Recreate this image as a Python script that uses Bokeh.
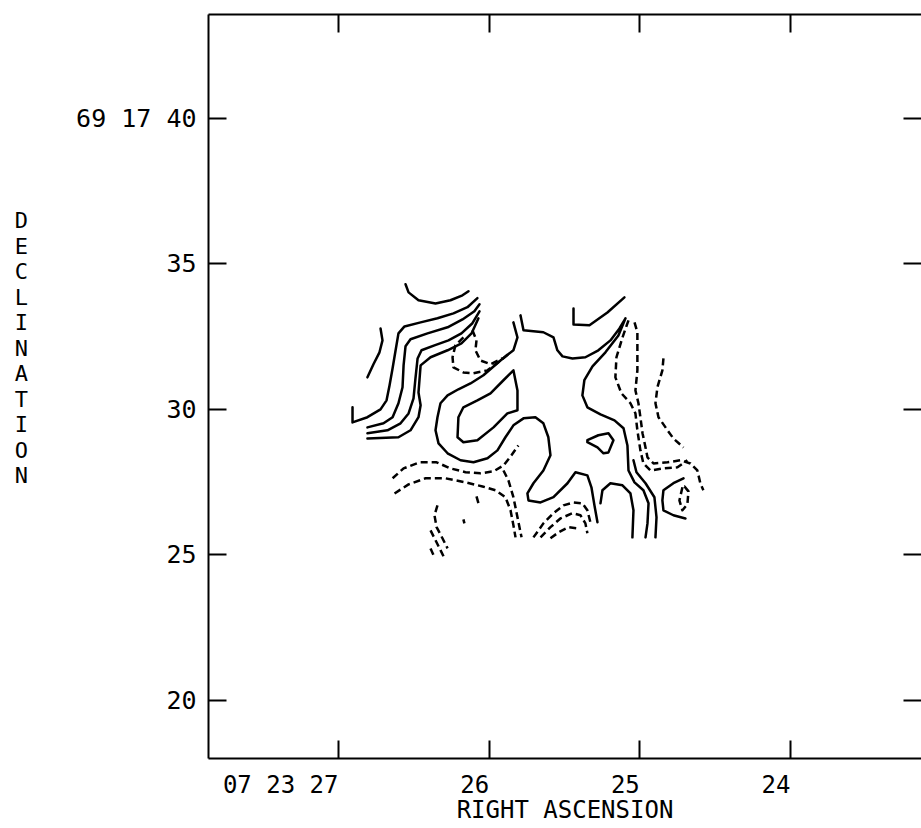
from bokeh.plotting import figure
from bokeh.models import Range1d, LinearAxis, FixedTicker, CustomLabelingPolicy
from bokeh.embed import file_html
from bokeh.resources import INLINE

# Axes: right ascension (seconds of 07h23m) and declination (arcsec of +69d17m)
ra_ticks = [27, 26, 25, 24]
ra_tick_labels = ["07 23 27", "26", "25", "24"]
dec_ticks = [20, 25, 30, 35, 40]
dec_tick_labels = ["20", "25", "30", "35", "69 17 40"]
ra_limits = (27.863, 23.13)
dec_limits = (18.0, 43.57)

# ---- positive (solid) contours: RA seconds, Dec arcsec ----
north_arc_ra = [26.555, 26.535, 26.469, 26.356, 26.257, 26.177, 26.137]
north_arc_dec = [34.30, 34.02, 33.75, 33.64, 33.75, 33.92, 34.06]

west_spur_ra = [26.721, 26.708, 26.728, 26.768, 26.808]
west_spur_dec = [32.78, 32.37, 31.96, 31.55, 31.10]

ridge1_ra = [26.907, 26.907, 26.808, 26.721, 26.681, 26.661, 26.641, 26.621, 26.602,
             26.562, 26.455, 26.343, 26.237, 26.144, 26.078]
ridge1_dec = [30.07, 29.55, 29.73, 30.00, 30.31, 30.83, 31.41, 32.03, 32.61,
              32.85, 32.99, 33.13, 33.30, 33.51, 33.82]

ridge2_ra = [26.808, 26.701, 26.641, 26.602, 26.575, 26.568, 26.555, 26.522, 26.409,
             26.276, 26.177, 26.098, 26.064]
ridge2_dec = [29.38, 29.52, 29.73, 30.21, 30.76, 31.51, 32.17, 32.41, 32.61,
              32.82, 33.09, 33.37, 33.61]

ridge3_ra = [26.808, 26.675, 26.588, 26.535, 26.502, 26.489, 26.475, 26.449, 26.363,
             26.270, 26.184, 26.111, 26.064]
ridge3_dec = [29.18, 29.28, 29.52, 29.86, 30.38, 31.07, 31.75, 32.03, 32.20,
              32.37, 32.61, 32.96, 33.37]

ridge4_ra = [26.808, 26.602, 26.522, 26.469, 26.455, 26.469, 26.455, 26.389, 26.276,
             26.184, 26.117, 26.071]
ridge4_dec = [29.00, 29.04, 29.28, 29.73, 30.14, 30.58, 31.51, 31.79, 32.03,
              32.27, 32.61, 33.13]

finger_ra = [26.204, 26.210, 26.171, 26.078, 25.971, 25.879, 25.812, 25.812, 25.839,
             25.905, 25.991, 26.078, 26.171, 26.204]
finger_dec = [29.73, 29.04, 28.87, 28.94, 29.38, 29.86, 29.97, 30.65, 31.34,
              31.00, 30.55, 30.31, 30.07, 29.73]

loop_ra = [25.839, 25.812, 25.839, 25.925, 26.038, 26.124, 26.204, 26.276, 26.323,
           26.343, 26.356, 26.336, 26.276, 26.190, 26.104, 26.011, 25.945, 25.892,
           25.839, 25.772, 25.693, 25.640, 25.607, 25.593, 25.640, 25.706, 25.746,
           25.739, 25.659, 25.573, 25.480, 25.427, 25.348, 25.321, 25.301, 25.281]
loop_dec = [32.99, 32.47, 32.03, 31.68, 31.17, 30.89, 30.69, 30.48, 30.21,
            29.73, 29.28, 28.83, 28.49, 28.25, 28.18, 28.32, 28.59, 29.04,
            29.45, 29.69, 29.73, 29.52, 29.04, 28.42, 27.90, 27.46, 27.11,
            26.87, 26.80, 26.98, 27.46, 27.84, 27.73, 27.32, 26.70, 26.12]

star_ra = [25.792, 25.772, 25.640, 25.573, 25.547, 25.513, 25.447, 25.361, 25.275,
           25.195, 25.135, 25.095, 25.142, 25.228, 25.314, 25.368, 25.381, 25.348,
           25.261, 25.168, 25.108, 25.082, 25.075, 25.035, 24.976, 24.942, 24.949,
           24.962]
star_dec = [33.23, 32.72, 32.65, 32.47, 32.03, 31.82, 31.75, 31.79, 32.03,
            32.37, 32.78, 33.13, 32.54, 31.96, 31.48, 31.00, 30.48, 30.07,
            29.83, 29.62, 29.35, 28.76, 27.90, 27.49, 27.22, 26.77, 26.08,
            25.60]

hook_ra = [25.440, 25.440, 25.334, 25.215, 25.102]
hook_dec = [33.47, 32.92, 32.89, 33.33, 33.85]

islet_ra = [25.348, 25.275, 25.208, 25.175, 25.208, 25.241, 25.281, 25.348, 25.348]
islet_dec = [28.94, 29.11, 29.18, 28.94, 28.52, 28.49, 28.69, 28.87, 28.94]

arch_ra = [25.261, 25.248, 25.195, 25.115, 25.062, 25.042, 25.049]
arch_dec = [26.77, 27.22, 27.46, 27.39, 27.11, 26.53, 25.60]

east_edge_ra = [25.042, 25.022, 24.962, 24.903, 24.889, 24.896]
east_edge_dec = [28.25, 27.84, 27.46, 26.98, 26.29, 25.60]

east_cup_ra = [24.710, 24.777, 24.843, 24.850, 24.843, 24.777, 24.697]
east_cup_dec = [27.63, 27.46, 27.22, 26.87, 26.53, 26.36, 26.25]

# ---- negative (dashed) contours ----
neg_a_ra = [26.171, 26.224, 26.243, 26.237, 26.171, 26.104, 26.011, 25.925, 25.858]
neg_a_dec = [32.47, 32.20, 31.79, 31.44, 31.27, 31.24, 31.34, 31.68, 31.96]

neg_b_ra = [26.111, 26.084, 26.091, 26.058, 25.991, 25.912]
neg_b_dec = [32.72, 32.37, 32.03, 31.68, 31.55, 31.75]

neg_c_ra = [25.075, 25.115, 25.155, 25.162, 25.122, 25.062, 25.029, 25.016, 24.996,
            24.976, 24.929, 24.843, 24.750, 24.684]
neg_c_dec = [33.06, 32.47, 31.79, 31.10, 30.55, 30.21, 29.86, 29.28, 28.59,
             28.14, 27.90, 27.97, 28.01, 28.25]

neg_d_ra = [25.035, 25.016, 25.016, 25.016, 25.029, 25.009, 24.996, 24.982, 24.962,
            24.949, 24.909, 24.816, 24.730, 24.664, 24.618, 24.598, 24.578]
neg_d_dec = [32.99, 32.65, 32.03, 31.34, 30.65, 30.21, 29.73, 29.18, 28.69,
             28.35, 28.14, 28.18, 28.25, 28.14, 27.90, 27.46, 27.22]

neg_e_ra = [24.843, 24.850, 24.883, 24.896, 24.876, 24.816, 24.777, 24.710]
neg_e_dec = [31.75, 31.34, 30.76, 30.21, 29.73, 29.28, 29.00, 28.69]

neg_f_ra = [24.717, 24.737, 24.717, 24.684, 24.677, 24.703, 24.717]
neg_f_dec = [27.32, 26.87, 26.53, 26.74, 27.18, 27.35, 27.32]

neg_g_ra = [26.641, 26.568, 26.462, 26.349, 26.257, 26.157, 26.058, 25.971, 25.905,
            25.852, 25.806]
neg_g_dec = [27.63, 27.97, 28.18, 28.18, 27.97, 27.84, 27.80, 27.87, 28.07,
             28.42, 28.76]

neg_h_ra = [26.628, 26.535, 26.422, 26.290, 26.157, 26.044, 25.958, 25.892, 25.858,
            25.839, 25.825]
neg_h_dec = [27.11, 27.42, 27.63, 27.63, 27.49, 27.35, 27.22, 26.98, 26.53,
             26.02, 25.60]

neg_i_ra = [25.905, 25.872, 25.839, 25.812, 25.785]
neg_i_dec = [27.90, 27.56, 26.98, 26.29, 25.60]

neg_j_ra = [26.343, 26.363, 26.349, 26.310, 26.276]
neg_j_dec = [26.70, 26.36, 25.95, 25.57, 25.22]

neg_k_ra = [26.389, 26.356, 26.323, 26.303]
neg_k_dec = [25.84, 25.50, 25.16, 24.95]

neg_l_ra = [26.389, 26.369]
neg_l_dec = [25.22, 24.98]

neg_m_ra = [26.084, 26.071]
neg_m_dec = [27.01, 26.77]

neg_n_ra = [26.171, 26.164]
neg_n_dec = [26.22, 26.08]

neg_o_ra = [25.706, 25.640, 25.573, 25.507, 25.440, 25.381, 25.348, 25.328]
neg_o_dec = [25.60, 26.08, 26.43, 26.70, 26.80, 26.77, 26.53, 26.12]

neg_p_ra = [25.659, 25.593, 25.527, 25.447, 25.394, 25.361, 25.348]
neg_p_dec = [25.60, 25.95, 26.25, 26.43, 26.36, 26.08, 25.74]

neg_q_ra = [25.593, 25.540, 25.474, 25.414]
neg_q_dec = [25.57, 25.77, 25.95, 25.91]

solid_ra = [north_arc_ra, west_spur_ra, ridge1_ra, ridge2_ra, ridge3_ra, ridge4_ra,
            finger_ra, loop_ra, star_ra, hook_ra, islet_ra, arch_ra, east_edge_ra,
            east_cup_ra]
solid_dec = [north_arc_dec, west_spur_dec, ridge1_dec, ridge2_dec, ridge3_dec, ridge4_dec,
             finger_dec, loop_dec, star_dec, hook_dec, islet_dec, arch_dec, east_edge_dec,
             east_cup_dec]
dashed_ra = [neg_a_ra, neg_b_ra, neg_c_ra, neg_d_ra, neg_e_ra, neg_f_ra, neg_g_ra,
             neg_h_ra, neg_i_ra, neg_j_ra, neg_k_ra, neg_l_ra, neg_m_ra, neg_n_ra,
             neg_o_ra, neg_p_ra, neg_q_ra]
dashed_dec = [neg_a_dec, neg_b_dec, neg_c_dec, neg_d_dec, neg_e_dec, neg_f_dec, neg_g_dec,
              neg_h_dec, neg_i_dec, neg_j_dec, neg_k_dec, neg_l_dec, neg_m_dec, neg_n_dec,
              neg_o_dec, neg_p_dec, neg_q_dec]

FONT = "DejaVu Sans Mono"

p = figure(width=921, height=828,
           x_range=Range1d(*ra_limits), y_range=Range1d(*dec_limits),
           output_backend="svg", toolbar_location=None,
           x_axis_location=None, y_axis_location=None,
           min_border_left=208, min_border_right=0,
           min_border_top=14, min_border_bottom=70)
p.outline_line_color = None
p.grid.visible = False
p.background_fill_color = "white"
p.border_fill_color = "white"


def frame_axis(ticks, labels, show_labels, draw_line=True):
    ax = LinearAxis(ticker=FixedTicker(ticks=ticks),
                    major_label_overrides={t: s for t, s in zip(ticks, labels)},
                    major_tick_in=18, major_tick_out=0,
                    major_tick_line_width=2, major_tick_line_color="black",
                    minor_tick_line_color=None,
                    axis_line_width=2,
                    axis_line_color="black" if draw_line else None,
                    major_label_text_font=FONT,
                    major_label_text_color="black")
    if not show_labels:
        # tick marks only on this side: no labels, no space reserved for them
        ax.major_label_policy = CustomLabelingPolicy(
            code="for (const i of indices) { if (false) yield i }")
        ax.major_label_text_font_size = "0px"
        ax.major_label_standoff = 0
    return ax


# bottom: labels hang to the left of their tick
x_bottom = frame_axis(ra_ticks, ra_tick_labels, True)
x_bottom.major_label_text_font_size = "24px"
x_bottom.major_label_orientation = 1e-4
x_bottom.major_label_standoff = 26
x_bottom.axis_label = "RIGHT ASCENSION"
x_bottom.axis_label_text_font = FONT
x_bottom.axis_label_text_font_style = "normal"
x_bottom.axis_label_text_font_size = "24px"
x_bottom.axis_label_text_color = "black"
x_bottom.axis_label_standoff = -20
p.add_layout(x_bottom, "below")

x_top = frame_axis(ra_ticks, ra_tick_labels, False)
p.add_layout(x_top, "above")

# left: numbers plus a stacked, one-letter-per-line title
y_left = frame_axis(dec_ticks, dec_tick_labels, True)
y_left.major_label_text_font_size = "25px"
y_left.major_label_standoff = 12
y_left.axis_label = "\n".join("DECLINATION") + "\n\n\n"
y_left.axis_label_orientation = "horizontal"
y_left.axis_label_text_font = FONT
y_left.axis_label_text_font_style = "normal"
y_left.axis_label_text_font_size = "22px"
y_left.axis_label_text_line_height = 1.02
y_left.axis_label_text_color = "black"
y_left.axis_label_standoff = 45
p.add_layout(y_left, "left")

y_right = frame_axis(dec_ticks, dec_tick_labels, False, draw_line=False)
p.add_layout(y_right, "right")

p.multi_line(xs=solid_ra, ys=solid_dec, line_color="black", line_width=2.5,
             line_join="round", line_cap="round")
p.multi_line(xs=dashed_ra, ys=dashed_dec, line_color="black", line_width=2.5,
             line_dash="7 4", line_join="round")

open("out.html", "w").write(file_html(p, INLINE))
